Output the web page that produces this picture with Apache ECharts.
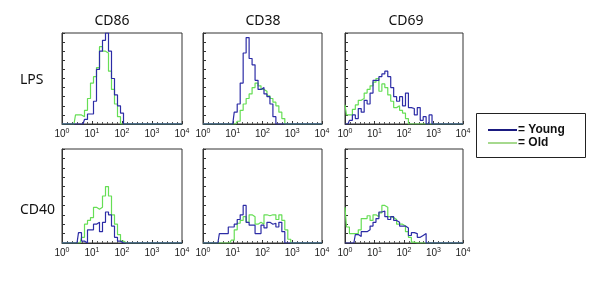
<!DOCTYPE html>
<html>
<head>
<meta charset="utf-8">
<script src="https://cdn.jsdelivr.net/npm/echarts@6/dist/echarts.min.js"></script>
<style>
  html, body { margin: 0; padding: 0; background: #ffffff; }
  #chart { width: 600px; height: 282px; }
</style>
</head>
<body>
<div id="chart"></div>
<script>
// 列标题 / 行标题
const markers = ['CD86', 'CD38', 'CD69'];
const stimuli = ['LPS', 'CD40'];
const tickExponents = [0, 1, 2, 3, 4];

// 直方图计数（log10 荧光强度，每 0.1 一格，0 ~ 4.0，共 41 格）
const cd86LpsYoung = [0,0,0,0,0,0,0,0,5,11,11,25,60,80,92,100,80,50,32,20,12,0,0,0,0,0,0,0,0,0,0,0,0,0,0,0,0,0,0,0,0];
const cd86LpsOld   = [0,0,0,0,0,10,10,8,15,28,45,52,62,85,80,78,58,38,22,8,0,0,0,0,0,0,0,0,0,0,0,0,0,0,0,0,0,0,0,0,0];
const cd38LpsYoung = [0,0,0,0,0,0,0,0,0,0,0,13,22,45,78,95,72,65,48,38,40,33,30,22,8,0,0,0,0,0,0,0,0,0,0,0,0,0,0,0,0];
const cd38LpsOld   = [0,0,0,0,0,0,0,0,0,0,0,0,3,15,22,28,33,40,45,42,38,36,31,28,24,20,13,6,0,0,0,0,0,0,0,0,0,0,0,0,0];
const cd69LpsYoung = [0,0,4,10,6,17,13,26,22,34,48,48,52,55,58,52,40,30,25,30,20,34,18,17,10,18,4,8,0,10,0,0,0,0,0,0,0,0,0,0,0];
const cd69LpsOld   = [21,10,10,16,21,26,28,34,38,42,46,50,36,44,40,32,25,18,20,15,12,6,0,0,0,0,0,0,0,0,0,0,0,0,0,0,0,0,0,0,0];
const cd86Cd40Young = [0,0,0,0,0,0,11,2,0,14,14,20,22,12,22,33,30,18,6,2,0,0,0,0,0,0,0,0,0,0,0,0,0,0,0,0,0,0,0,0,0];
const cd86Cd40Old   = [0,0,0,0,0,0,0,6,20,24,27,38,36,38,50,60,50,30,20,9,2,0,0,0,0,0,0,0,0,0,0,0,0,0,0,0,0,0,0,0,0];
const cd38Cd40Young = [0,0,0,0,0,0,10,10,10,17,17,20,25,30,40,22,19,19,10,10,19,16,22,20,21,17,22,12,0,0,0,0,0,0,0,0,0,0,0,0,0];
const cd38Cd40Old   = [0,0,0,0,0,0,0,0,0,0,3,14,21,24,28,22,30,28,20,22,20,30,29,30,30,25,30,24,14,4,0,0,0,0,0,0,0,0,0,0,0];
const cd69Cd40Young = [0,0,0,0,9,7,12,12,14,18,22,26,33,34,28,25,28,24,22,18,18,16,8,11,10,6,8,10,0,0,0,0,0,0,0,0,0,0,0,0,0];
const cd69Cd40Old   = [38,17,10,10,10,14,26,26,29,24,30,28,32,40,38,28,27,25,20,20,18,12,6,1,0,0,0,0,0,0,0,0,0,0,0,0,0,0,0,0,0];

const panels = [
  [cd86LpsYoung, cd86LpsOld], [cd38LpsYoung, cd38LpsOld], [cd69LpsYoung, cd69LpsOld],
  [cd86Cd40Young, cd86Cd40Old], [cd38Cd40Young, cd38Cd40Old], [cd69Cd40Young, cd69Cd40Old]
];

const youngColor = '#2c2ca6';
const oldColor = '#66de55';

// 面板位置
const colLeft = [62, 203, 345];
const colWidth = [120, 119, 118];
const rowTop = [33, 149];
const rowHeight = [91, 94];

const toPairs = arr => arr.map((v, i) => [i / 10, v]);

const myChart = echarts.init(document.getElementById('chart'), null, { renderer: 'canvas' });

const grids = [], xAxes = [], yAxes = [], series = [];
panels.forEach((pair, k) => {
  const r = Math.floor(k / 3), c = k % 3;
  grids.push({
    left: colLeft[c], top: rowTop[r], width: colWidth[c], height: rowHeight[r],
    show: true, borderColor: '#333', borderWidth: 1, backgroundColor: 'transparent'
  });
  xAxes.push({
    gridIndex: k, type: 'value', min: 0, max: 4, interval: 1,
    axisLine: { lineStyle: { color: '#333', width: 1 } },
    axisTick: { inside: true, length: 3, lineStyle: { color: '#333' } },
    minorTick: { show: true, splitNumber: 6, length: 2, lineStyle: { color: '#555' } },
    splitLine: { show: false },
    axisLabel: {
      margin: 4,
      formatter: v => '{b|10}{s|' + tickExponents[v] + '}',
      rich: {
        b: { fontSize: 10, fontFamily: 'Liberation Sans', color: '#222' },
        s: { fontSize: 7, fontFamily: 'Liberation Sans', color: '#222', verticalAlign: 'top', padding: [0, 0, 6, 0] }
      }
    }
  });
  yAxes.push({
    gridIndex: k, type: 'value', min: 0, max: 100, interval: 10,
    axisLine: { show: true, lineStyle: { color: '#333', width: 1 } },
    axisTick: { show: true, inside: true, length: 3, lineStyle: { color: '#333' } },
    axisLabel: { show: false },
    splitLine: { show: false }
  });
  pair.forEach((arr, j) => {
    series.push({
      name: j === 0 ? 'Young' : 'Old',
      type: 'line', step: 'middle', symbol: 'none',
      xAxisIndex: k, yAxisIndex: k,
      data: toPairs(arr),
      lineStyle: { color: j === 0 ? youngColor : oldColor, width: 1.2 },
      z: j === 0 ? 3 : 2,
      animation: false
    });
  });
});

const titles = [];
const titleX = [107, 258, 401];
markers.forEach((m, i) => titles.push({
  text: m, left: titleX[i], top: 9, textAlign: 'center',
  textStyle: { fontFamily: 'Noto Sans', fontSize: 14, fontWeight: 'normal', color: '#111' }
}));
const rowLabelY = [68, 198];
stimuli.forEach((s, i) => titles.push({
  text: s, left: 15, top: rowLabelY[i],
  textStyle: { fontFamily: 'Noto Sans', fontSize: 14, fontWeight: 'normal', color: '#111' }
}));

const option = {
  backgroundColor: '#ffffff',
  animation: false,
  title: titles,
  grid: grids,
  xAxis: xAxes,
  yAxis: yAxes,
  series: series,
  graphic: [
    { type: 'rect', shape: { x: 476.5, y: 113.5, width: 109, height: 44 }, style: { fill: '#fff', stroke: '#222', lineWidth: 1 } },
    { type: 'line', shape: { x1: 488, y1: 130, x2: 517, y2: 130 }, style: { stroke: '#1a1a80', lineWidth: 2 } },
    { type: 'line', shape: { x1: 488, y1: 143, x2: 517, y2: 143 }, style: { stroke: '#a6d98e', lineWidth: 2 } },
    { type: 'text', x: 518, y: 130, style: { text: '= Young', font: 'bold 12px "Liberation Sans"', fill: '#111', verticalAlign: 'middle' } },
    { type: 'text', x: 518, y: 143, style: { text: '= Old', font: 'bold 12px "Liberation Sans"', fill: '#111', verticalAlign: 'middle' } }
  ]
};

myChart.setOption(option);
window.addEventListener('resize', () => myChart.resize());
</script>
</body>
</html>
